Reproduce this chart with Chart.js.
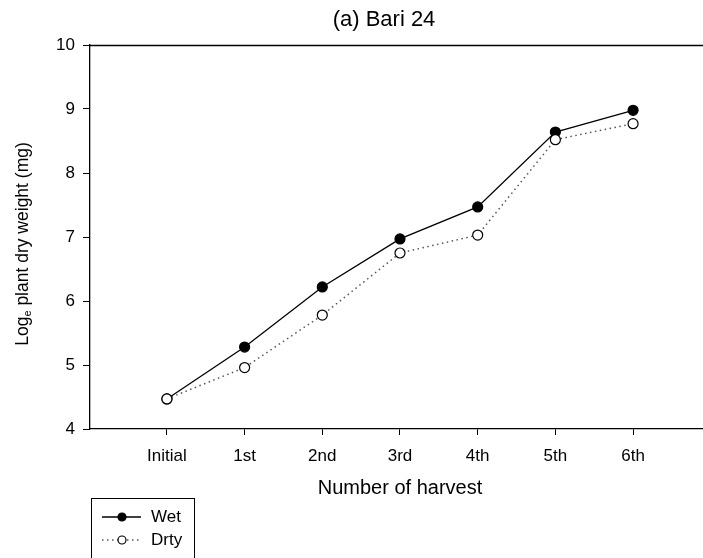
<!DOCTYPE html>
<html>
<head>
<meta charset="utf-8">
<script src="https://cdn.jsdelivr.net/npm/chart.js@4/dist/chart.umd.min.js"></script>
<style>
html,body{margin:0;padding:0;background:#fff;}
canvas{display:block;}
</style>
</head>
<body>
<canvas id="c" width="703" height="558"></canvas>
<script>
const categories = ["Initial", "1st", "2nd", "3rd", "4th", "5th", "6th"];
const wetValues = [4.47, 5.28, 6.22, 6.97, 7.47, 8.64, 8.98];
const dryValues = [4.47, 4.96, 5.78, 6.75, 7.03, 8.52, 8.77];
const yTicks = [4, 5, 6, 7, 8, 9, 10];
const seriesNames = ["Wet", "Drty"];
const titleText = "(a) Bari 24";
const xTitle = "Number of harvest";

const FONT = "'Liberation Sans', Arial, sans-serif";

const toPoints = arr => arr.map((v, i) => ({x: i, y: v}));

const extras = {
  id: 'extras',
  afterDraw(chart) {
    const ctx = chart.ctx;
    const a = chart.chartArea;
    ctx.save();
    // top frame line
    ctx.strokeStyle = '#000';
    ctx.lineWidth = 1.3;
    ctx.beginPath();
    ctx.moveTo(a.left, a.top + 0.5);
    ctx.lineTo(703, a.top + 0.5);
    ctx.stroke();
    // title
    ctx.fillStyle = '#000';
    ctx.font = "22px " + FONT;
    ctx.textAlign = 'center';
    ctx.textBaseline = 'middle';
    ctx.fillText(titleText, 384, 20);
    // x title
    ctx.font = "20px " + FONT;
    ctx.fillText(xTitle, 400, 488);
    // y title with subscript
    ctx.translate(23, 244);
    ctx.rotate(-Math.PI / 2);
    const f1 = "17.5px " + FONT, f2 = "11px " + FONT;
    const p1 = "Log", sub = "e", p2 = " plant dry weight (mg)";
    ctx.font = f1; const w1 = ctx.measureText(p1).width, w3 = ctx.measureText(p2).width;
    ctx.font = f2; const w2 = ctx.measureText(sub).width;
    const total = w1 + w2 + w3;
    let x = -total / 2;
    ctx.textAlign = 'left';
    ctx.textBaseline = 'middle';
    ctx.font = f1; ctx.fillText(p1, x, 0); x += w1;
    ctx.font = f2; ctx.fillText(sub, x, 5); x += w2;
    ctx.font = f1; ctx.fillText(p2, x, 0);
    ctx.setTransform(1, 0, 0, 1, 0, 0);
    // legend
    ctx.strokeStyle = '#000';
    ctx.lineWidth = 1;
    ctx.strokeRect(91.5, 498.5, 103, 70);
    const rows = [517, 540];
    [0, 1].forEach((i) => {
      const ds = chart.data.datasets[i];
      const y = rows[i];
      ctx.strokeStyle = ds.borderColor;
      ctx.lineWidth = ds.borderWidth;
      ctx.setLineDash(ds.borderDash || []);
      ctx.beginPath(); ctx.moveTo(102, y); ctx.lineTo(141, y); ctx.stroke();
      ctx.setLineDash([]);
      ctx.beginPath(); ctx.arc(122, y, 4, 0, Math.PI * 2);
      ctx.fillStyle = ds.pointBackgroundColor; ctx.fill();
      ctx.strokeStyle = ds.pointBorderColor; ctx.lineWidth = 1.2; ctx.stroke();
      ctx.fillStyle = '#000';
      ctx.font = "17px " + FONT;
      ctx.textAlign = 'left';
      ctx.textBaseline = 'middle';
      ctx.fillText(ds.label, 151, y);
    });
    ctx.restore();
  }
};

new Chart(document.getElementById('c'), {
  type: 'line',
  data: {
    datasets: [
      {
        label: seriesNames[0],
        data: toPoints(wetValues),
        order: 1,
        borderColor: '#000',
        borderWidth: 1.3,
        pointRadius: 5,
        pointBackgroundColor: '#000',
        pointBorderColor: '#000',
        pointBorderWidth: 1.2,
        tension: 0
      },
      {
        label: seriesNames[1],
        data: toPoints(dryValues),
        order: 0,
        borderColor: '#555',
        borderWidth: 1.5,
        borderDash: [1.5, 3.5],
        pointRadius: 5,
        pointBackgroundColor: '#fff',
        pointBorderColor: '#000',
        pointBorderWidth: 1.2,
        tension: 0
      }
    ]
  },
  options: {
    responsive: false,
    animation: false,
    devicePixelRatio: 1,
    layout: {autoPadding: false, padding: {left: 0, right: 0, top: 45, bottom: 0}},
    plugins: {legend: {display: false}, title: {display: false}, tooltip: {enabled: false}},
    scales: {
      x: {
        type: 'linear',
        min: -0.99,
        max: 6.9,
        afterFit(s) { s.height = 129; s.paddingLeft = 0; s.paddingRight = 0; },
        afterBuildTicks(s) { s.ticks = categories.map((c, i) => ({value: i})); },
        grid: {display: true, drawOnChartArea: false, drawTicks: true, tickLength: 6, color: '#000', lineWidth: 1},
        border: {display: true, color: '#000', width: 1.3},
        ticks: {
          color: '#000',
          font: {family: FONT, size: 17},
          padding: 11,
          maxRotation: 0,
          autoSkip: false,
          callback: (v) => categories[v]
        }
      },
      y: {
        min: 4,
        max: 10,
        afterFit(s) { s.width = 90; },
        afterBuildTicks(s) { s.ticks = yTicks.map(v => ({value: v})); },
        grid: {display: true, drawOnChartArea: false, drawTicks: true, tickLength: 7, color: '#000', lineWidth: 1},
        border: {display: true, color: '#000', width: 1.3},
        ticks: {
          color: '#000',
          font: {family: FONT, size: 17},
          padding: 8,
          callback: (v) => String(v)
        }
      }
    }
  },
  plugins: [extras]
});
</script>
</body>
</html>
